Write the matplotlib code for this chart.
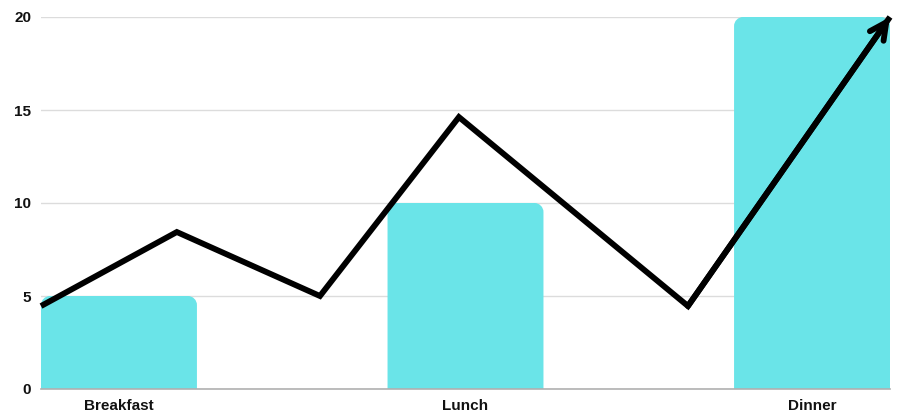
import matplotlib
matplotlib.use("Agg")
import matplotlib.pyplot as plt
from matplotlib.path import Path
from matplotlib.patches import PathPatch, FancyArrowPatch
from matplotlib import font_manager

categories = ["Breakfast", "Lunch", "Dinner"]
values = [5, 10, 20]
y_ticks = [0, 5, 10, 15, 20]

# decorative trend line running across the bars
trend_x = [-0.225, 0.167, 0.58, 0.981, 1.642, 2.225]
trend_y = [4.46, 8.44, 5.0, 14.62, 4.46, 20.0]

BAR_COLOR = "#6ae4e8"
installed = {f.name for f in font_manager.fontManager.ttflist}
FONT = [f for f in ["Liberation Sans Narrow", "Liberation Sans", "DejaVu Sans"]
        if f in installed]

fig = plt.figure(figsize=(9.01, 4.13), dpi=100)
ax = fig.add_axes([41 / 901, 24 / 413, 849 / 901, 372 / 413])

x = list(range(len(categories)))
bars = ax.bar(x, values, width=0.45, color=BAR_COLOR, zorder=2)
ax.set_xlim(-0.225, 2.225)
ax.set_ylim(0, 20)

# replace rectangles with top-rounded shapes
fig.canvas.draw()
inv = ax.transData.inverted()
o = inv.transform((0, 0))
r = inv.transform((9, 9))
rx, ry = r[0] - o[0], r[1] - o[1]
for b in bars:
    x0, w, h = b.get_x(), b.get_width(), b.get_height()
    x1 = x0 + w
    k = 0.55
    verts = [
        (x0, 0), (x0, h - ry),
        (x0, h - ry * (1 - k)), (x0 + rx * (1 - k), h), (x0 + rx, h),
        (x1 - rx, h),
        (x1 - rx * (1 - k), h), (x1, h - ry * (1 - k)), (x1, h - ry),
        (x1, 0), (x0, 0),
    ]
    codes = [Path.MOVETO, Path.LINETO,
             Path.CURVE4, Path.CURVE4, Path.CURVE4,
             Path.LINETO,
             Path.CURVE4, Path.CURVE4, Path.CURVE4,
             Path.LINETO, Path.CLOSEPOLY]
    ax.add_patch(PathPatch(Path(verts, codes), facecolor=BAR_COLOR,
                           edgecolor="none", zorder=2))
    b.set_visible(False)

ax.plot(trend_x, trend_y, color="black", lw=4.2, zorder=3,
        solid_joinstyle="miter", solid_capstyle="butt", clip_on=False)
ax.add_patch(FancyArrowPatch((trend_x[-2], trend_y[-2]), (trend_x[-1], trend_y[-1]),
                             arrowstyle="->,head_length=12,head_width=6",
                             color="black", lw=4.2, zorder=4, clip_on=False,
                             shrinkA=0, shrinkB=0, joinstyle="miter",
                             capstyle="round"))

ax.set_yticks(y_ticks)
ax.yaxis.grid(True, color="#dcdcdc", lw=1, zorder=0)
ax.set_axisbelow(True)
for s in ["top", "right", "left"]:
    ax.spines[s].set_visible(False)
ax.spines["bottom"].set_color("#b0b0b0")
ax.spines["bottom"].set_linewidth(1.2)
ax.tick_params(axis="both", length=0)
ax.tick_params(axis="y", pad=7)
ax.tick_params(axis="x", pad=7)
ax.set_xticks(x)
ax.set_xticklabels(categories)
for lab in ax.get_xticklabels() + ax.get_yticklabels():
    lab.set_family(FONT)
    lab.set_fontweight("bold")
    lab.set_fontsize(11)
    lab.set_color("#111111")

fig.savefig("out.png", dpi=100)
